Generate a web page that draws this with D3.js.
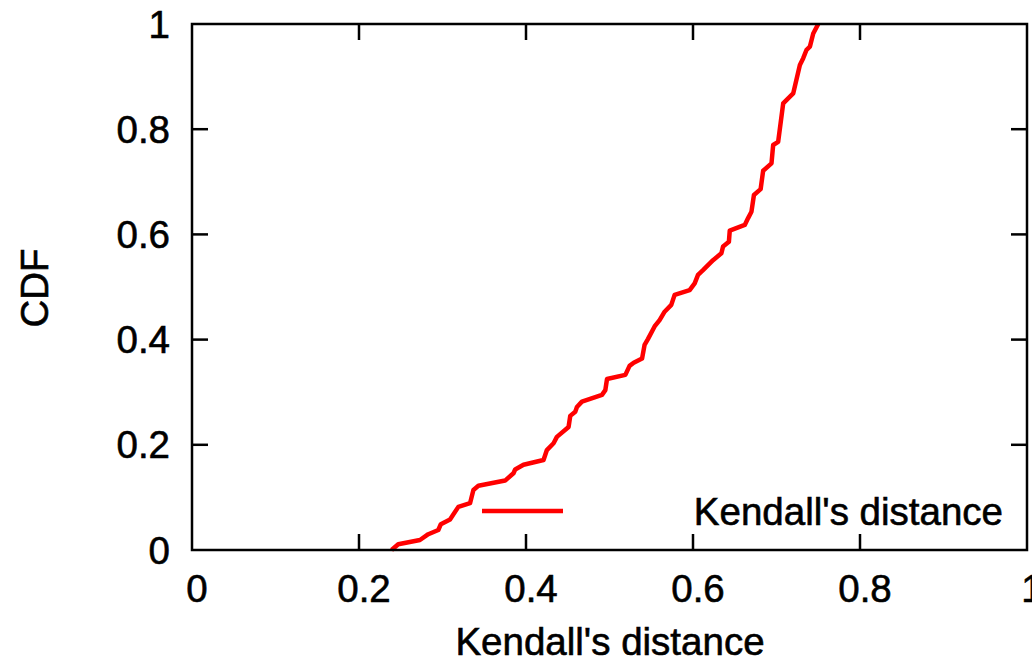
<!DOCTYPE html>
<html>
<head>
<meta charset="utf-8">
<script src="https://cdn.jsdelivr.net/npm/d3@7/dist/d3.min.js"></script>
<style>
  html, body { margin: 0; padding: 0; background: #fff; }
  svg { display: block; }
  text { font-family: "Liberation Sans", Arial, sans-serif; fill: #000; stroke: #000; stroke-width: 0.6px; }
</style>
</head>
<body>
<svg id="chart" width="1032" height="663"></svg>
<script>
// Data: CDF of Kendall's distance (x = distance, y = cumulative fraction)
const kendallX = [0.239, 0.247, 0.273, 0.283, 0.295, 0.298, 0.309, 0.319, 0.333, 0.337,
  0.343, 0.375, 0.385, 0.387, 0.397, 0.421, 0.425, 0.433, 0.437, 0.451,
  0.453, 0.459, 0.461, 0.467, 0.491, 0.495, 0.497, 0.519, 0.524, 0.529,
  0.539, 0.542, 0.546, 0.554, 0.560, 0.566, 0.574, 0.578, 0.596, 0.602,
  0.606, 0.612, 0.624, 0.634, 0.636, 0.643, 0.644, 0.662, 0.666, 0.670,
  0.673, 0.681, 0.684, 0.694, 0.696, 0.702, 0.708, 0.720, 0.728, 0.732,
  0.736, 0.740, 0.744, 0.750];
const kendallCDF = [0.000, 0.011, 0.019, 0.030, 0.038, 0.049, 0.058, 0.082, 0.089, 0.114,
  0.122, 0.132, 0.146, 0.153, 0.162, 0.171, 0.190, 0.203, 0.215, 0.234,
  0.255, 0.263, 0.272, 0.282, 0.295, 0.304, 0.325, 0.333, 0.350, 0.356,
  0.364, 0.390, 0.401, 0.425, 0.437, 0.453, 0.466, 0.485, 0.494, 0.507,
  0.523, 0.532, 0.551, 0.564, 0.577, 0.586, 0.607, 0.618, 0.631, 0.643,
  0.675, 0.686, 0.721, 0.735, 0.770, 0.776, 0.849, 0.868, 0.922, 0.935,
  0.951, 0.957, 0.982, 1.000];
const xTicks = [0, 0.2, 0.4, 0.6, 0.8, 1];
const yTicks = [0, 0.2, 0.4, 0.6, 0.8, 1];
const xTickLabels = ["0", "0.2", "0.4", "0.6", "0.8", "1"];
const yTickLabels = ["0", "0.2", "0.4", "0.6", "0.8", "1"];
const seriesName = "Kendall's distance";
const xTitle = "Kendall's distance";
const yTitle = "CDF";

const svg = d3.select("#chart");
const L = 192, R = 1027, T = 24, B = 550;
const x = d3.scaleLinear().domain([0, 1]).range([L, R]);
const y = d3.scaleLinear().domain([0, 1]).range([B, T]);
const tickLen = 16;
const fontSize = 38.5;

// Inner ticks on all four sides
const g = svg.append("g");
const tickStyle = s => s.attr("stroke", "#000").attr("stroke-width", 2.5);
xTicks.slice(1, -1).forEach(v => {
  g.append("line").attr("x1", x(v)).attr("x2", x(v)).attr("y1", B).attr("y2", B - tickLen).call(tickStyle);
  g.append("line").attr("x1", x(v)).attr("x2", x(v)).attr("y1", T).attr("y2", T + tickLen).call(tickStyle);
});
yTicks.slice(1, -1).forEach(v => {
  g.append("line").attr("x1", L).attr("x2", L + tickLen).attr("y1", y(v)).attr("y2", y(v)).call(tickStyle);
  g.append("line").attr("x1", R).attr("x2", R - tickLen).attr("y1", y(v)).attr("y2", y(v)).call(tickStyle);
});

// Tick labels
xTicks.forEach((v, i) => {
  svg.append("text").attr("x", x(v) + 5).attr("y", 602).attr("text-anchor", "middle")
    .attr("font-size", fontSize).text(xTickLabels[i]);
});
yTicks.forEach((v, i) => {
  svg.append("text").attr("x", 170).attr("y", y(v) + 13.5).attr("text-anchor", "end")
    .attr("font-size", fontSize).text(yTickLabels[i]);
});

// Axis titles
svg.append("text").attr("x", 610).attr("y", 655).attr("text-anchor", "middle")
  .attr("font-size", fontSize).text(xTitle);
svg.append("text").attr("transform", "translate(48,288) rotate(-90)").attr("text-anchor", "middle")
  .attr("font-size", fontSize).text(yTitle);

// Legend
svg.append("line").attr("x1", 482).attr("x2", 563).attr("y1", 511).attr("y2", 511)
  .attr("stroke", "#ff0000").attr("stroke-width", 4.5);
svg.append("text").attr("x", 1003).attr("y", 525).attr("text-anchor", "end")
  .attr("font-size", fontSize).text(seriesName);

// Curve
const pts = kendallX.map((v, i) => [v, kendallCDF[i]]);
const line = d3.line().x(d => x(d[0])).y(d => y(d[1]));
svg.append("path").datum(pts).attr("d", line).attr("fill", "none")
  .attr("stroke", "#ff0000").attr("stroke-width", 4.5).attr("stroke-linejoin", "round");

// Frame
svg.append("rect").attr("x", L).attr("y", T).attr("width", R - L).attr("height", B - T)
  .attr("fill", "none").attr("stroke", "#000").attr("stroke-width", 2.5);
</script>
</body>
</html>
